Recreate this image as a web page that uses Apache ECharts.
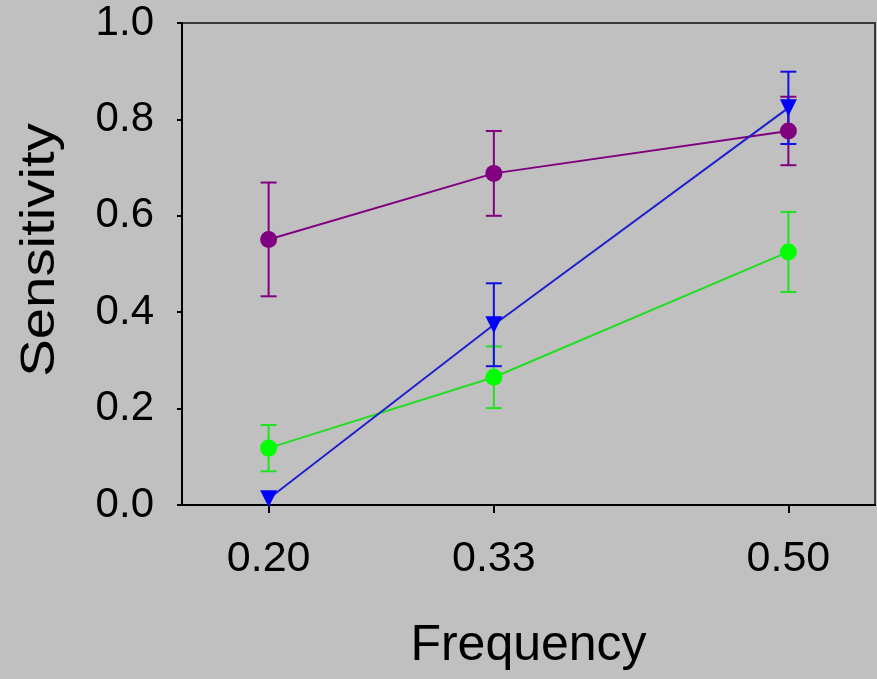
<!DOCTYPE html>
<html>
<head>
<meta charset="utf-8">
<script src="https://cdn.jsdelivr.net/npm/echarts@6/dist/echarts.min.js"></script>
<style>
  html, body { margin: 0; padding: 0; background: #c0c0c0; }
  #chart { width: 877px; height: 679px; }
</style>
</head>
<body>
<div id="chart"></div>
<script>
// Stimulus frequencies (x) and tick values
const frequencies = [0.20, 0.33, 0.50];
const xTicks = [0.20, 0.33, 0.50];

// Mean sensitivity and error (± half-bar) per group
const purpleMean = [0.551, 0.688, 0.776];
const purpleErr  = [0.118, 0.088, 0.071];
const blueMean   = [0.013, 0.374, 0.824];
const blueErr    = [0.000, 0.086, 0.075];
const greenMean  = [0.118, 0.265, 0.525];
const greenErr   = [0.048, 0.064, 0.083];

const FONT = 'Liberation Sans, Arial, sans-serif';

function pairs(xs, ys) { return xs.map((x, i) => [x, ys[i]]); }
function errRows(xs, ys, es) { return xs.map((x, i) => [x, ys[i] - es[i], ys[i] + es[i]]); }

function errorBarSeries(rows, color) {
  return {
    type: 'custom',
    data: rows,
    z: 2,
    silent: true,
    renderItem: function (params, api) {
      const x = api.value(0);
      const lo = api.coord([x, api.value(1)]);
      const hi = api.coord([x, api.value(2)]);
      const half = 8;
      const style = { stroke: color, lineWidth: 2 };
      if (Math.abs(hi[1] - lo[1]) < 1) return null;
      return {
        type: 'group',
        children: [
          { type: 'line', shape: { x1: lo[0], y1: lo[1], x2: hi[0], y2: hi[1] }, style: style },
          { type: 'line', shape: { x1: lo[0] - half, y1: lo[1], x2: lo[0] + half, y2: lo[1] }, style: style },
          { type: 'line', shape: { x1: hi[0] - half, y1: hi[1], x2: hi[0] + half, y2: hi[1] }, style: style }
        ]
      };
    }
  };
}

function lineSeries(data, lineColor, markColor, symbol, size, rotate) {
  return {
    type: 'line',
    data: data,
    z: 3,
    symbol: symbol,
    symbolSize: size,
    symbolRotate: rotate || 0,
    showAllSymbol: true,
    lineStyle: { color: lineColor, width: 2 },
    itemStyle: { color: markColor, opacity: 1 },
    emphasis: { disabled: true },
    animation: false
  };
}

const chart = echarts.init(document.getElementById('chart'));
chart.setOption({
  backgroundColor: '#c0c0c0',
  animation: false,
  grid: {
    left: 182, right: 2, top: 23, bottom: 174,
    show: true, borderColor: '#3a3a3a', borderWidth: 2, backgroundColor: 'transparent'
  },
  // Vertical axis title, drawn as a rotated text element
  graphic: [{
    type: 'text',
    x: 40, y: 250,
    rotation: Math.PI / 2,
    scaleX: 1.15,
    style: {
      text: 'Sensitivity',
      fontFamily: FONT, fontSize: 49, fill: '#000',
      align: 'center', verticalAlign: 'middle'
    }
  }],
  xAxis: {
    type: 'value',
    min: 0.15, max: 0.55,
    name: 'Frequency',
    nameLocation: 'middle',
    nameGap: 116,
    nameTextStyle: { fontFamily: FONT, fontSize: 50, color: '#000' },
    axisLine: { show: true, onZero: false, lineStyle: { color: '#000', width: 2 } },
    axisTick: { show: true, length: 8, customValues: xTicks, lineStyle: { color: '#000', width: 2 } },
    axisLabel: {
      customValues: xTicks, margin: 33,
      fontFamily: FONT, fontSize: 43, color: '#000',
      formatter: v => v.toFixed(2)
    },
    splitLine: { show: false }
  },
  yAxis: {
    type: 'value',
    min: 0, max: 1, interval: 0.2,
    axisLine: { show: true, lineStyle: { color: '#000', width: 2 } },
    axisTick: { show: true, length: 5, lineStyle: { color: '#000', width: 2 } },
    axisLabel: {
      margin: 28, fontFamily: FONT, fontSize: 42, color: '#000',
      formatter: v => v.toFixed(1)
    },
    splitLine: { show: false }
  },
  series: [
    errorBarSeries(errRows(frequencies, greenMean, greenErr), '#22e022'),
    lineSeries(pairs(frequencies, greenMean), '#22dd22', '#00ff00', 'circle', 17),
    errorBarSeries(errRows(frequencies, purpleMean, purpleErr), '#800080'),
    lineSeries(pairs(frequencies, purpleMean), '#800080', '#800080', 'circle', 17),
    errorBarSeries(errRows(frequencies, blueMean, blueErr), '#1010e0'),
    lineSeries(pairs(frequencies, blueMean), '#2020cc', '#0000ff', 'triangle', 17, 180)
  ]
});
</script>
</body>
</html>
